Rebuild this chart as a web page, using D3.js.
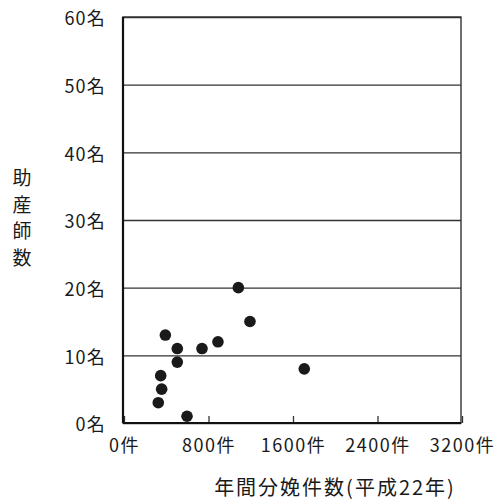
<!DOCTYPE html>
<html>
<head>
<meta charset="utf-8">
<script src="https://cdn.jsdelivr.net/npm/d3@7"></script>
<style>
  body { margin: 0; background: #fff; }
  svg text { font-family: "Noto Sans CJK JP", "Noto Sans", sans-serif; fill: #1a1a1a; }
</style>
</head>
<body>
<svg id="chart" width="497" height="502"></svg>
<script>
// data
const births = [1092, 1202, 401, 514, 514, 748, 899, 357, 366, 334, 606, 1716]
const midwives = [20, 15, 13, 11, 9, 11, 12, 7, 5, 3, 1, 8]
const xTicks = [0, 800, 1600, 2400, 3200]
const yTicks = [0, 10, 20, 30, 40, 50, 60]
const xTitle = '年間分娩件数(平成22年)'
const yTitle = ['助', '産', '師', '数']

const svg = d3.select('#chart')
const lineColor = '#333'
const dotColor = '#1a1a1a'

// plot box
const plotLeft = 123, plotRight = 461, plotTop = 17, plotBottom = 423

const xScale = d3.scaleLinear().domain([0, 3200]).range([plotLeft, plotRight])
const yScale = d3.scaleLinear().domain([0, 60]).range([plotBottom, plotTop])

// horizontal grid lines
const grid = svg.append('g')
	.attr('transform', `translate(${plotLeft}, 0)`)
	.call(d3.axisLeft(yScale).tickValues(yTicks).tickSize(-(plotRight - plotLeft)).tickFormat(''))
grid.select('.domain').remove()
grid.selectAll('.tick line').attr('stroke', lineColor).attr('stroke-width', 1.3)

// y tick labels
const yAxis = svg.append('g')
	.attr('transform', `translate(${plotLeft}, 2)`)
	.call(d3.axisLeft(yScale).tickValues(yTicks).tickSize(0).tickPadding(17).tickFormat(d => d + '名'))
yAxis.select('.domain').remove()
yAxis.selectAll('text').style('font-size', '18px').attr('letter-spacing', '1.2px')

// x axis with inward ticks
const xAxis = svg.append('g')
	.attr('transform', `translate(1, ${plotBottom})`)
	.call(d3.axisBottom(xScale).tickValues(xTicks).tickSizeInner(-7).tickSizeOuter(0).tickPadding(16).tickFormat(d => d + '件'))
xAxis.select('.domain').remove()
xAxis.selectAll('.tick line').attr('stroke', lineColor).attr('stroke-width', 1.3)
xAxis.selectAll('text').style('font-size', '18px').attr('letter-spacing', '1.5px')

// frame
svg.append('rect')
	.attr('x', plotLeft).attr('y', plotTop)
	.attr('width', plotRight - plotLeft).attr('height', plotBottom - plotTop)
	.attr('fill', 'none').attr('stroke', lineColor).attr('stroke-width', 1.4)
svg.append('line')
	.attr('x1', plotLeft).attr('y1', plotTop).attr('x2', plotLeft).attr('y2', plotBottom)
	.attr('stroke', '#111').attr('stroke-width', 2.2)
svg.append('line')
	.attr('x1', plotLeft).attr('y1', plotBottom).attr('x2', plotRight).attr('y2', plotBottom)
	.attr('stroke', '#111').attr('stroke-width', 2.2)

// points
svg.selectAll('circle.dot')
	.data(births)
	.enter()
	.append('circle')
		.attr('class', 'dot')
		.attr('cx', d => xScale(d))
		.attr('cy', (d, i) => yScale(midwives[i]))
		.attr('r', 5.8)
		.attr('fill', dotColor)

// axis titles
svg.append('text')
	.attr('x', 335)
	.attr('y', 495)
	.attr('text-anchor', 'middle')
	.attr('letter-spacing', '2px')
	.style('font-size', '20px')
	.text(xTitle)

svg.selectAll('text.ytitle')
	.data(yTitle)
	.enter()
	.append('text')
		.attr('class', 'ytitle')
		.attr('x', 22)
		.attr('y', (d, i) => 185 + i * 26.5)
		.attr('text-anchor', 'middle')
		.style('font-size', '19px')
		.text(d => d)
</script>
</body>
</html>
